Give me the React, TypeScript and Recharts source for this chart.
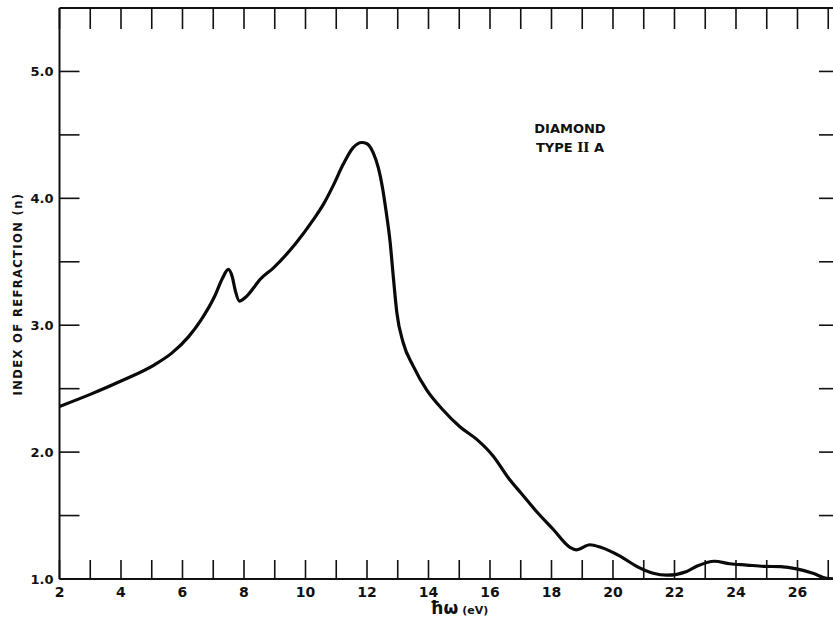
import { Line, LineChart, XAxis, YAxis } from "recharts";

const energy = [
  2.0, 3.0, 4.0, 5.1, 5.65, 6.2, 6.6, 7.05, 7.3, 7.49, 7.62, 7.72, 7.85, 8.05, 8.36, 8.52,
  8.95, 9.7, 10.25, 10.6, 10.9, 11.23, 11.55, 11.83, 12.0, 12.2, 12.37, 12.5, 12.62, 12.75,
  12.86, 12.97, 13.18, 13.5, 13.94, 14.48, 15.02, 15.57, 16.1, 16.65, 17.0, 17.52, 18.06,
  18.6, 18.8, 19.25, 19.6, 20.23, 20.77, 21.31, 21.75, 22.4, 22.72, 23.3, 23.8, 24.35,
  24.9, 25.45, 25.97, 26.5, 26.95, 27.2
];

const refIndex = [
  2.36, 2.455, 2.56, 2.69, 2.78, 2.91, 3.04, 3.23, 3.37, 3.44, 3.38, 3.27, 3.19, 3.22, 3.31,
  3.36, 3.45, 3.65, 3.83, 3.96, 4.1, 4.27, 4.4, 4.44, 4.43, 4.36, 4.24, 4.09, 3.9, 3.66,
  3.37, 3.1, 2.86, 2.68, 2.49, 2.33, 2.2, 2.1, 1.97, 1.78, 1.68, 1.53, 1.39, 1.25, 1.23,
  1.27, 1.25, 1.18, 1.1, 1.045, 1.03, 1.06, 1.1, 1.14, 1.12, 1.11, 1.1, 1.097, 1.08,
  1.045, 1.005, 1.0
];

const xTicks = [2, 3, 4, 5, 6, 7, 8, 9, 10, 11, 12, 13, 14, 15, 16, 17, 18, 19, 20, 21, 22, 23, 24, 25, 26, 27];
const yTicks = [1, 1.5, 2, 2.5, 3, 3.5, 4, 4.5, 5];

const data = energy.map((e, i) => ({ e, n: refIndex[i] }));

const font = "'DejaVu Sans', sans-serif";

const BottomTick = (props: any) => {
  const { x, y, payload } = props;
  const v = payload.value;
  return (
    <g>
      <line x1={x} y1={y} x2={x} y2={y - 19} stroke="#111" strokeWidth={1.6} />
      {v % 2 === 0 && (
        <text x={x} y={y + 18} textAnchor="middle" fontFamily={font} fontWeight="bold" fontSize={14} fill="#111">
          {v}
        </text>
      )}
    </g>
  );
};

const TopTick = (props: any) => {
  const { x, y } = props;
  return <line x1={x} y1={y} x2={x} y2={y + 21} stroke="#111" strokeWidth={1.6} />;
};

const LeftTick = (props: any) => {
  const { x, y, payload } = props;
  const v = payload.value;
  return (
    <g>
      <line x1={x} y1={y} x2={x + 20} y2={y} stroke="#111" strokeWidth={1.6} />
      {Number.isInteger(v) && (
        <text x={x - 6} y={y + 5} textAnchor="end" fontFamily={font} fontWeight="bold" fontSize={13} fill="#111">
          {v.toFixed(1)}
        </text>
      )}
    </g>
  );
};

const RightTick = (props: any) => {
  const { x, y } = props;
  return <line x1={x} y1={y} x2={x - 20} y2={y} stroke="#111" strokeWidth={1.6} />;
};

export default function App() {
  return (
    <div style={{ position: "absolute", left: 0, top: 0, width: 833, height: 623, overflow: "hidden", background: "#fff" }}>
      <LineChart width={850} height={623} data={data} margin={{ top: 7, right: 10, bottom: 0, left: 0 }}>
        <XAxis
          xAxisId="bottom"
          dataKey="e"
          type="number"
          domain={[2, 27.35]}
          ticks={xTicks}
          interval={0}
          height={44}
          tickSize={0}
          tickMargin={0}
          tick={<BottomTick />}
          axisLine={{ stroke: "#111", strokeWidth: 2 }}
          tickLine={false}
          allowDataOverflow
        />
        <XAxis
          xAxisId="top"
          orientation="top"
          dataKey="e"
          type="number"
          domain={[2, 27.35]}
          ticks={xTicks}
          interval={0}
          height={1}
          tickSize={0}
          tickMargin={0}
          tick={<TopTick />}
          axisLine={{ stroke: "#111", strokeWidth: 2 }}
          tickLine={false}
          allowDataOverflow
        />
        <YAxis
          yAxisId="left"
          type="number"
          domain={[1, 5.5]}
          ticks={yTicks}
          interval={0}
          width={59.5}
          tickSize={0}
          tickMargin={0}
          tick={<LeftTick />}
          axisLine={{ stroke: "#111", strokeWidth: 2 }}
          tickLine={false}
          allowDataOverflow
        />
        <YAxis
          yAxisId="right"
          orientation="right"
          type="number"
          domain={[1, 5.5]}
          ticks={yTicks}
          interval={0}
          width={1}
          tickSize={0}
          tickMargin={0}
          tick={<RightTick />}
          axisLine={{ stroke: "#111", strokeWidth: 2 }}
          tickLine={false}
          allowDataOverflow
        />
        <Line
          xAxisId="bottom"
          yAxisId="left"
          type="monotone"
          dataKey="n"
          stroke="#0a0a0a"
          strokeWidth={3.2}
          dot={false}
          isAnimationActive={false}
        />
        <Line
          xAxisId="top"
          yAxisId="right"
          type="monotone"
          dataKey="n"
          stroke="none"
          strokeWidth={0}
          dot={false}
          activeDot={false}
          legendType="none"
          isAnimationActive={false}
        />
      </LineChart>
      <svg width={833} height={623} style={{ position: "absolute", left: 0, top: 0, pointerEvents: "none" }}>
        <text
          x={22}
          y={294}
          transform="rotate(-90 22 294)"
          textAnchor="middle"
          fontFamily={font}
          fontWeight="bold"
          fontSize={11.5}
          letterSpacing={1.4}
          fill="#111"
        >
          INDEX OF REFRACTION (n)
        </text>
        <text x={570} y={133} textAnchor="middle" fontFamily={font} fontWeight="bold" fontSize={13} fill="#111">
          DIAMOND
        </text>
        <text x={570} y={152} textAnchor="middle" fontFamily={font} fontWeight="bold" fontSize={13} fill="#111">
          TYPE <tspan fontFamily="'DejaVu Serif', serif">II</tspan> A
        </text>
        <text x={430} y={614} fontFamily={font} fill="#111">
          <tspan fontSize={17} fontWeight="bold">ħω</tspan>
          <tspan fontSize={11} fontWeight="bold" dx={4}>(eV)</tspan>
        </text>
      </svg>
    </div>
  );
}
